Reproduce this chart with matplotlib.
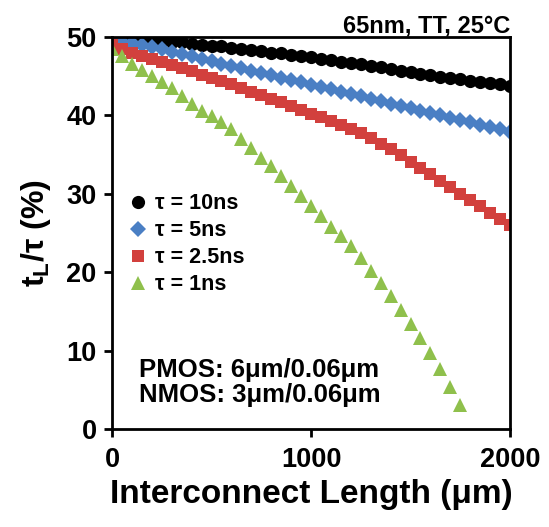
import numpy as np
import matplotlib
matplotlib.use("Agg")
import matplotlib.pyplot as plt

plt.rcParams["font.family"] = ["Liberation Sans", "DejaVu Sans"]
plt.rcParams["font.weight"] = "bold"
plt.rcParams["mathtext.fontset"] = "custom"
plt.rcParams["mathtext.rm"] = "Liberation Sans:bold"
plt.rcParams["mathtext.it"] = "Liberation Sans:bold"
plt.rcParams["mathtext.bf"] = "Liberation Sans:bold"

# interconnect length (um), step 50
length = list(range(0, 2001, 50))
length_1ns = list(range(0, 1751, 50))

tau_10ns = [50.0, 49.9, 49.8, 49.7, 49.6, 49.5, 49.4, 49.3, 49.1, 49.0,
            48.9, 48.8, 48.6, 48.5, 48.3, 48.2, 48.0, 47.9, 47.7, 47.5,
            47.4, 47.2, 47.0, 46.8, 46.7, 46.5, 46.3, 46.1, 45.9, 45.7,
            45.5, 45.3, 45.1, 44.9, 44.7, 44.6, 44.4, 44.3, 44.1, 44.0,
            43.8]
tau_5ns = [49.6, 49.4, 49.2, 49.0, 48.7, 48.4, 48.1, 47.8, 47.5, 47.2,
           46.9, 46.6, 46.3, 46.0, 45.7, 45.4, 45.1, 44.8, 44.5, 44.2,
           43.9, 43.6, 43.3, 43.0, 42.7, 42.4, 42.1, 41.8, 41.5, 41.2,
           40.9, 40.6, 40.3, 40.0, 39.7, 39.4, 39.1, 38.8, 38.5, 38.2,
           37.9]
tau_2p5ns = [49.0, 48.5, 48.0, 47.6, 47.2, 46.8, 46.4, 46.0, 45.6, 45.2,
             44.8, 44.4, 44.0, 43.5, 43.0, 42.6, 42.1, 41.7, 41.2, 40.7,
             40.2, 39.8, 39.3, 38.8, 38.3, 37.7, 37.1, 36.4, 35.7, 34.9,
             34.1, 33.3, 32.5, 31.6, 30.8, 30.0, 29.2, 28.4, 27.6, 26.8,
             26.0]
tau_1ns = [48.5, 47.5, 46.6, 45.8, 45.0, 44.3, 43.5, 42.5, 41.5, 40.6,
           39.9, 39.1, 38.2, 37.0, 35.8, 34.6, 33.5, 32.3, 31.0, 29.7,
           28.4, 27.1, 25.8, 24.6, 23.3, 21.8, 20.2, 18.6, 16.9, 15.2,
           13.4, 11.6, 9.7, 7.6, 5.3, 3.0]

fig = plt.figure(figsize=(5.49, 5.27), dpi=100)
ax = fig.add_axes([0.204, 0.186, 0.725, 0.744])

ax.plot(length, tau_10ns, "o", color="black", ms=9.5, mew=0,
        label="τ = 10ns")
ax.plot(length, tau_5ns, "D", color="#4a7fc4", ms=8.5, mew=0,
        label="τ = 5ns")
ax.plot(length, tau_2p5ns, "s", color="#d2403d", ms=9, mew=0,
        label="τ = 2.5ns")
ax.plot(length_1ns, tau_1ns, "^", color="#8fc04c", ms=10.5, mew=0,
        label="τ = 1ns")

ax.set_xlim(0, 2000)
ax.set_ylim(0, 50)
ax.set_xticks([0, 1000, 2000])
ax.set_yticks([0, 10, 20, 30, 40, 50])
ax.tick_params(labelsize=19.5, width=2, length=6, direction="out", pad=5)
ax.tick_params(axis="x", pad=7)
for s in ax.spines.values():
    s.set_linewidth(2)

ax.set_xlabel("Interconnect Length (μm)", fontsize=24, fontweight="bold",
              labelpad=4)
ax.set_ylabel(r"t$_\mathrm{L}$/τ (%)", fontsize=23, fontweight="bold",
              labelpad=10)

ax.legend(loc="upper left", bbox_to_anchor=(0.0, 0.64), frameon=False,
          fontsize=15.5, handlelength=1.0, handletextpad=0.3,
          labelspacing=0.28, borderaxespad=0.3)

ax.text(0.068, 0.150, "PMOS: 6μm/0.06μm", transform=ax.transAxes,
        fontsize=18.5, fontweight="bold", va="center")
ax.text(0.068, 0.087, "NMOS: 3μm/0.06μm", transform=ax.transAxes,
        fontsize=18.5, fontweight="bold", va="center")

fig.text(0.929, 0.972, "65nm, TT, 25°C", ha="right", va="top",
         fontsize=17, fontweight="bold")

fig.savefig("out.png", dpi=100)
plt.close()
